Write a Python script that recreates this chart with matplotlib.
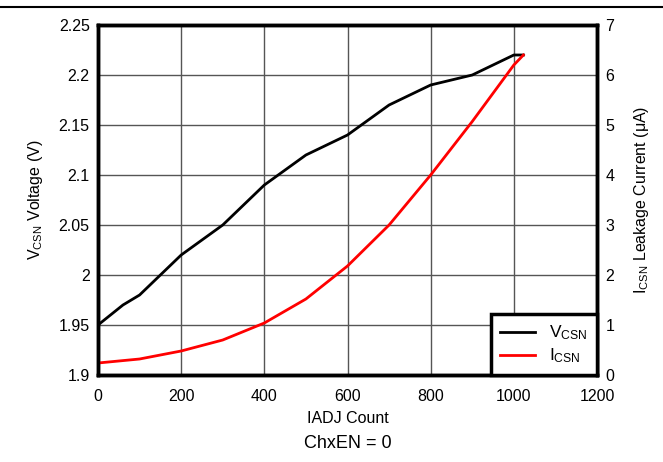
import matplotlib

matplotlib.use("Agg")

import matplotlib.pyplot as plt  # noqa: E402
from matplotlib.lines import Line2D  # noqa: E402

plt.rcParams["font.family"] = ["Liberation Sans", "DejaVu Sans"]
plt.rcParams["font.size"] = 11.5
plt.rcParams["mathtext.fontset"] = "custom"
plt.rcParams["mathtext.rm"] = "Liberation Sans"
plt.rcParams["mathtext.it"] = "Liberation Sans"

# VCSN voltage vs IADJ count
iadj_v = [0, 60, 100, 200, 300, 400, 500, 600, 700, 800, 900, 1000, 1023]
vcsn = [1.95, 1.97, 1.98, 2.02, 2.05, 2.09, 2.12, 2.14, 2.17, 2.19, 2.20, 2.22, 2.22]

# ICSN leakage current (uA) vs IADJ count
iadj_i = [0, 100, 200, 300, 400, 500, 600, 700, 800, 900, 1000, 1023]
icsn = [0.24, 0.32, 0.48, 0.70, 1.04, 1.52, 2.18, 3.0, 4.0, 5.07, 6.2, 6.4]

fig = plt.figure(figsize=(6.63, 4.62), dpi=100)
ax = fig.add_axes([98 / 663, 1 - 375 / 462, 499 / 663, 350 / 462])
ax2 = ax.twinx()

ax.plot(iadj_v, vcsn, color="black", lw=2, label=r"V$_{\rm CSN}$")
ax2.plot(iadj_i, icsn, color="red", lw=2, label=r"I$_{\rm CSN}$")

ax.set_xlim(0, 1200)
ax.set_ylim(1.9, 2.25)
ax2.set_ylim(0, 7)
ax.set_xticks(range(0, 1201, 200))
ax.set_yticks([1.9, 1.95, 2.0, 2.05, 2.1, 2.15, 2.2, 2.25])
ax.set_yticklabels(["1.9", "1.95", "2", "2.05", "2.1", "2.15", "2.2", "2.25"])
ax2.set_yticks(range(0, 8))

ax.grid(True, color="#555555", lw=1)
ax.set_axisbelow(True)
for a in (ax, ax2):
    for s in a.spines.values():
        s.set_linewidth(2.5)
    a.tick_params(length=0, pad=6)
ax.tick_params(axis="x", pad=10)

ax.set_xlabel("IADJ Count", labelpad=5)
ax.set_ylabel(r"V$_{\rm CSN}$ Voltage (V)", labelpad=10)
ax2.set_ylabel(r"I$_{\rm CSN}$ Leakage Current ($\mu$A)", labelpad=13)

fig.text(0.5 * (98 + 597) / 663, 1 - 443 / 462, "ChxEN = 0", ha="center", va="center", fontsize=13)

h1, l1 = ax.get_legend_handles_labels()
h2, l2 = ax2.get_legend_handles_labels()
leg = ax2.legend(h1 + h2, l1 + l2, loc="lower right", borderaxespad=0, fancybox=False,
                 framealpha=1, edgecolor="black", fontsize=12.5, handlelength=2.0,
                 borderpad=0.55, labelspacing=0.25)
leg.get_frame().set_linewidth(2.5)

fig.add_artist(Line2D([0, 1], [1 - 7 / 462, 1 - 7 / 462], color="black", lw=1.5))

fig.savefig("out.png", dpi=100)
